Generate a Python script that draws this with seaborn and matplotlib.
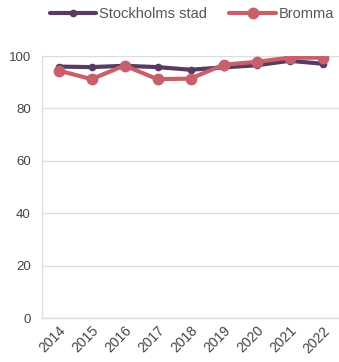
import pandas as pd
import numpy as np
import seaborn as sns
import matplotlib.pyplot as plt
from matplotlib.ticker import MultipleLocator

# Data
years = ['2014', '2015', '2016', '2017', '2018', '2019', '2020', '2021', '2022']
stockholm = [96.0, 95.8, 96.3, 95.8, 94.8, 95.7, 96.5, 98.2, 97.1]
bromma = [94.5, 91.2, 96.4, 91.2, 91.4, 96.7, 97.8, 99.4, 99.4]
series_names = ['Stockholms stad', 'Bromma']
colors = ['#573b62', '#c8606b']

data = pd.DataFrame({
    'year': years * 2,
    'value': stockholm + bromma,
    'area': [series_names[0]] * len(years) + [series_names[1]] * len(years),
})

sns.set_style('white')
plt.rcParams['font.family'] = ['Liberation Sans', 'DejaVu Sans']

fig = plt.figure(figsize=(3.39, 3.62), dpi=100)
ax = fig.add_axes([0.124, 0.1215, 0.876, 0.7235])

sns.lineplot(data=data[data['area'] == series_names[0]], x='year', y='value',
             color=colors[0], linewidth=3.0, marker='o', markersize=5.5,
             markeredgewidth=0, label=series_names[0], ax=ax, sort=False)
sns.lineplot(data=data[data['area'] == series_names[1]], x='year', y='value',
             color=colors[1], linewidth=3.0, marker='o', markersize=8.5,
             markeredgewidth=0, label=series_names[1], ax=ax, sort=False)

ax.set_xlim(-0.5, len(years) - 0.5)
ax.set_ylim(0, 100)
ax.yaxis.set_major_locator(MultipleLocator(20))
ax.set_xlabel('')
ax.set_ylabel('')

# grid and axes styling
ax.grid(axis='y', color='#dddddd', linewidth=1)
ax.set_axisbelow(True)
for side in ['top', 'right']:
    ax.spines[side].set_visible(False)
ax.spines['left'].set_color('#dddddd')
ax.spines['bottom'].set_color('#dddddd')
ax.spines['left'].set_linewidth(1)
ax.spines['bottom'].set_linewidth(1)

# category boundary ticks on x
ax.set_xticks(np.arange(-0.5, len(years), 1), minor=True)
ax.tick_params(axis='x', which='minor', length=5, color='#dddddd', width=1)
ax.tick_params(axis='x', which='major', length=0, pad=4, labelsize=10)
ax.tick_params(axis='y', length=0, pad=8, labelsize=9.5)
ax.tick_params(labelcolor='#444444')
plt.setp(ax.get_xticklabels(), rotation=45, ha='right', rotation_mode='anchor')

leg = ax.legend(loc='upper center', bbox_to_anchor=(0.505, 1.21), ncol=2,
                frameon=False, fontsize=10.5, handlelength=3.2,
                handletextpad=0.2, columnspacing=1.5, borderaxespad=0)
for t in leg.get_texts():
    t.set_color('#555555')

plt.savefig('out.png', dpi=100)
